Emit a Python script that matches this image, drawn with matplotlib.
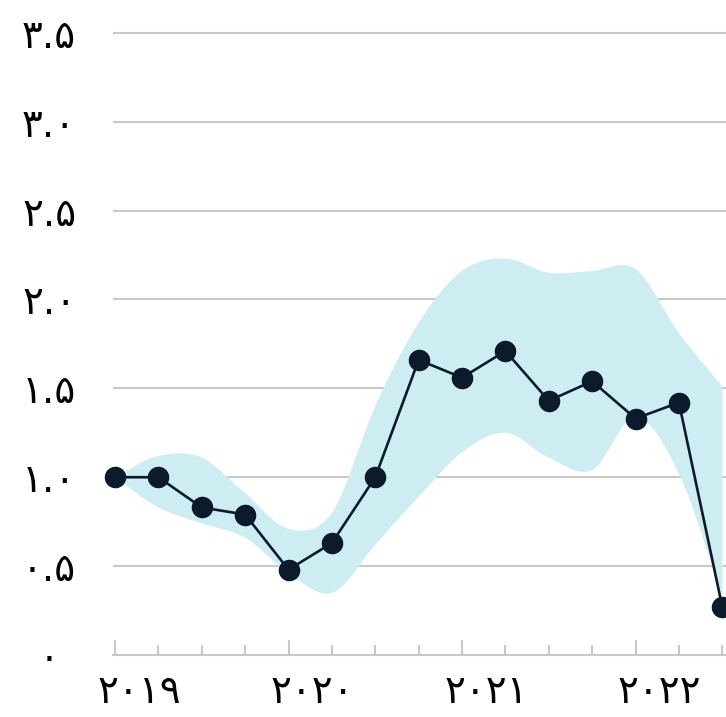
import numpy as np
import matplotlib
matplotlib.use("Agg")
import matplotlib.pyplot as plt
from matplotlib.path import Path
from matplotlib.patches import PathPatch
from matplotlib.transforms import ScaledTranslation

# Quarterly series, 2019 Q1 .. 2022 Q3
quarters = list(range(15))
values = [1.00, 1.00, 0.83, 0.79, 0.48, 0.63, 1.00, 1.66, 1.56, 1.71, 1.43, 1.54, 1.33, 1.42, 0.27]
band_upper = [1.00, 1.12, 1.11, 0.91, 0.71, 0.80, 1.40, 1.87, 2.16, 2.23, 2.15, 2.16, 2.17, 1.81, 1.51]
band_lower = [1.00, 0.83, 0.74, 0.66, 0.46, 0.35, 0.62, 0.89, 1.14, 1.25, 1.11, 1.04, 1.34, 1.02, 0.33]

year_ticks = [0, 4, 8, 12]
year_labels = ["۲۰۱۹", "۲۰۲۰", "۲۰۲۱", "۲۰۲۲"]
y_ticks = [0, 0.5, 1.0, 1.5, 2.0, 2.5, 3.0, 3.5]
y_labels = ["۰", "۰.۵", "۱.۰", "۱.۵", "۲.۰", "۲.۵", "۳.۰", "۳.۵"]

LINE_COLOR = "#0c1b2b"
BAND_COLOR = "#cdedf3"
GRID_COLOR = "#c9c9c9"

plt.rcParams["font.family"] = ["DejaVu Sans"]


def smooth_segments(xs, ys):
    """Catmull-Rom curve through the points, as cubic Bezier vertices."""
    pts = np.column_stack([xs, ys]).astype(float)
    n = len(pts)
    verts = []
    for i in range(n - 1):
        p0 = pts[max(i - 1, 0)]
        p1 = pts[i]
        p2 = pts[i + 1]
        p3 = pts[min(i + 2, n - 1)]
        c1 = p1 + (p2 - p0) / 6.0
        c2 = p2 - (p3 - p1) / 6.0
        verts.extend([tuple(c1), tuple(c2), tuple(p2)])
    return verts


fig = plt.figure(figsize=(7.26, 7.17), dpi=100)
ax = fig.add_axes([113 / 726, 62 / 717, 631 / 726, 640 / 717])
ax.set_xlim(-0.046, 14.5)
ax.set_ylim(0, 3.6)

# Shaded range band
up = smooth_segments(quarters, band_upper)
lo = smooth_segments(quarters[::-1], band_lower[::-1])
verts = [(quarters[0], band_upper[0])] + up + [(quarters[-1], band_lower[-1])] + lo + [(0, 0)]
codes = ([Path.MOVETO] + [Path.CURVE4] * len(up) + [Path.LINETO]
         + [Path.CURVE4] * len(lo) + [Path.CLOSEPOLY])
ax.add_patch(PathPatch(Path(verts, codes), facecolor=BAND_COLOR, edgecolor="none", zorder=1))

# Grid lines
for yv in y_ticks[1:]:
    ax.axhline(yv, color=GRID_COLOR, lw=1.5, zorder=0.5)

# Main series
ax.plot(quarters, values, color=LINE_COLOR, lw=1.9, marker="o", markersize=14.5,
        markerfacecolor=LINE_COLOR, markeredgecolor=LINE_COLOR, zorder=3, clip_on=False)

# Axes styling
for side in ["top", "right", "left"]:
    ax.spines[side].set_visible(False)
ax.spines["bottom"].set_color(GRID_COLOR)
ax.spines["bottom"].set_linewidth(1.5)

ax.set_xticks(year_ticks)
ax.set_xticklabels(year_labels, fontsize=28)
ax.set_xticks(quarters, minor=True)
ax.tick_params(axis="x", which="major", direction="in", length=11, width=1.5,
               color=GRID_COLOR, pad=13)
ax.tick_params(axis="x", which="minor", direction="in", length=7, width=1.5,
               color=GRID_COLOR)
shift = ScaledTranslation(0.24, 0, fig.dpi_scale_trans)
for lab in ax.get_xticklabels():
    lab.set_transform(lab.get_transform() + shift)

ax.set_yticks(y_ticks)
ax.set_yticklabels(y_labels, fontsize=28, ha="center")
ax.tick_params(axis="y", length=0, pad=46)

fig.savefig("out.png", dpi=100)
